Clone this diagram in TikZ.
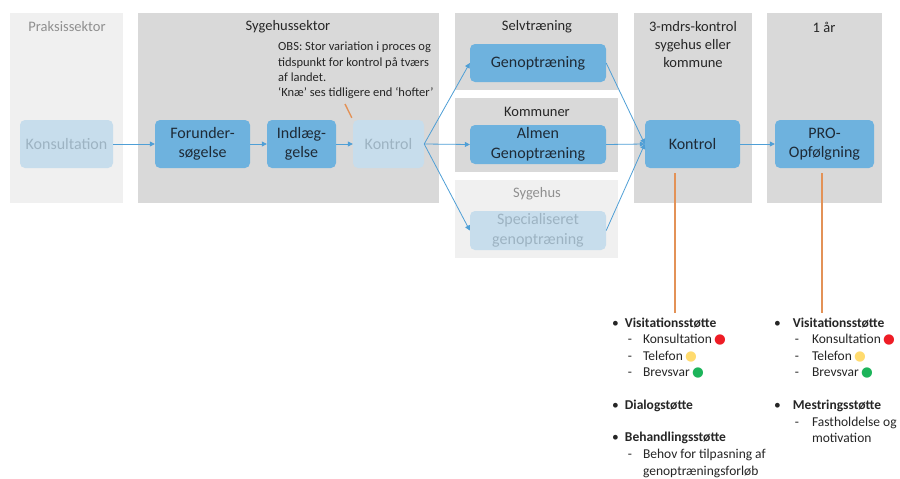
\documentclass[tikz,border=0pt]{standalone}
\usepackage{fontspec}
\setmainfont{Carlito}
\newfontfamily\dotfont{DejaVu Sans}
\usetikzlibrary{arrows.meta}
\definecolor{panelgray}{HTML}{D9D9D9}
\definecolor{panellight}{HTML}{F0F0F0}
\definecolor{boxblue}{HTML}{6EB2DE}
\definecolor{boxfade}{HTML}{C7DDEC}
\definecolor{fadetext}{HTML}{9DB3C2}
\definecolor{boxtext}{HTML}{1E2A36}
\definecolor{titlegray}{HTML}{8F8F8F}
\definecolor{linkblue}{HTML}{4F9FD6}
\definecolor{obsorange}{HTML}{E39257}
\definecolor{dotred}{HTML}{EE1C25}
\definecolor{dotyellow}{HTML}{FFDB6E}
\definecolor{dotgreen}{HTML}{1CB45A}
\tikzset{
  panel/.style={fill=panelgray, anchor=north west, inner sep=0pt},
  paneltitle/.style={font=\fontsize{14.5}{18}\selectfont, text=black!85, align=center},
  proc/.style={fill=boxblue, rounded corners=5pt, minimum height=48, align=center,
    text=boxtext, font=\fontsize{16}{19.5}\selectfont, inner sep=0pt},
  faded/.style={proc, fill=boxfade, text=fadetext},
  link/.style={draw=linkblue, line width=0.8pt, -{Triangle[length=5pt,width=5pt]}},
  obsline/.style={draw=obsorange, line width=1.4pt},
  bullets/.style={anchor=base west, inner sep=0pt, font=\fontsize{13.5}{16.3}\selectfont, text=black!85}
}
\newcommand{\tlight}[1]{\,{\dotfont\textcolor{#1}{●}}}

\begin{document}
\begin{tikzpicture}[x=1pt, y=-1pt]
  \path[use as bounding box, fill=white] (0,0) rectangle (900,479);
  % sector panels
  \node[panel, fill=panellight, minimum width=113, minimum height=190] (praks) at (10,13) {};
  \node[panel, minimum width=301, minimum height=190] (sygeh) at (138,13) {};
  \node[panel, minimum width=163, minimum height=77] (selv) at (455,13) {};
  \node[panel, minimum width=163, minimum height=74] (komm) at (455,98) {};
  \node[panel, fill=panellight, minimum width=163, minimum height=78] (sygh) at (455,180) {};
  \node[panel, minimum width=118, minimum height=190] (tremdr) at (634,13) {};
  \node[panel, minimum width=115, minimum height=190] (aar) at (767,13) {};
  \node[paneltitle, text=titlegray] (praksT) at (67,27) {Praksissektor};
  \node[paneltitle] (sygehT) at (288,27) {Sygehussektor};
  \node[paneltitle] (selvT) at (537,27) {Selvtræning};
  \node[paneltitle] (kommT) at (537,112) {Kommuner};
  \node[paneltitle, text=titlegray] (syghT) at (537,194) {Sygehus};
  \node[paneltitle] (tremdrT) at (693,45) {3-mdrs-kontrol\\sygehus eller\\kommune};
  \node[paneltitle] (aarT) at (824,27) {1 år};
  % process boxes
  \node[faded, minimum width=93] (konsult) at (66.5,144) {Konsultation};
  \node[proc, minimum width=95] (forund) at (202.5,144) {Forunder-\\søgelse};
  \node[proc, minimum width=69] (indlaeg) at (301.5,144) {Indlæg-\\gelse};
  \node[faded, minimum width=71] (kontrolA) at (388.5,144) {Kontrol};
  \node[proc, minimum width=136, minimum height=38] (genop) at (538,63) {Genoptræning};
  \node[proc, minimum width=136, minimum height=39] (almen) at (538,144.5) {Almen\\Genoptræning};
  \node[faded, minimum width=136, minimum height=39] (special) at (538,230.5) {Specialiseret\\genoptræning};
  \node[proc, minimum width=95] (kontrol) at (692.5,144) {Kontrol};
  \node[proc, minimum width=99] (pro) at (824.5,144) {PRO-\\Opfølgning};
  \node[anchor=north west, align=left, inner sep=0pt, text=black!85,
    font=\fontsize{12.5}{15.3}\selectfont] (obs) at (278,42)
    {OBS: Stor variation i proces og\\tidspunkt for kontrol på tværs\\af landet.\\‘Knæ’ ses tidligere end ‘hofter’};
  % flow
  \draw[link] (konsult) -- (forund);
  \draw[link] (forund) -- (indlaeg);
  \draw[link] (indlaeg) -- (kontrolA);
  \draw[link] (kontrolA.east) -- (genop.west);
  \draw[link] (kontrolA.east) -- (almen.west);
  \draw[link] (kontrolA.east) -- (special.west);
  \draw[link] (genop.east) -- (kontrol.west);
  \draw[link] (almen.east) -- (kontrol.west);
  \draw[link] (special.east) -- (kontrol.west);
  \draw[link] (kontrol) -- (pro);
  % orange pointers
  \coordinate (obstip) at (345,104);
  \coordinate (kontrolfoot) at (675,313);
  \coordinate (profoot) at (822,313);
  \draw[obsline] (obstip) -- ([shift={(-1,-2)}]kontrolA.north west);
  \draw[obsline] ([shift={(-17.5,5)}]kontrol.south) -- (kontrolfoot);
  \draw[obsline] ([shift={(-2.5,5)}]pro.south) -- (profoot);
  % support lists
  \node[bullets] (listA) at (612,327.5) {%
    \begin{tabular}[t]{@{}l@{\hspace{6pt}}l@{\hspace{11pt}}l@{}}
      \textbullet & \multicolumn{2}{@{}l@{}}{\textbf{Visitationsstøtte}}\\
       & \hspace{3pt}- & Konsultation\tlight{dotred}\\
       & \hspace{3pt}- & Telefon\tlight{dotyellow}\\
       & \hspace{3pt}- & Brevsvar\tlight{dotgreen}\\[16.7pt]
      \textbullet & \multicolumn{2}{@{}l@{}}{\textbf{Dialogstøtte}}\\[15.7pt]
      \textbullet & \multicolumn{2}{@{}l@{}}{\textbf{Behandlingsstøtte}}\\[1pt]
       & \hspace{3pt}- & Behov for tilpasning af\\
       & & genoptræningsforløb
    \end{tabular}};
  \node[bullets] (listB) at (774,327.5) {%
    \begin{tabular}[t]{@{}l@{\hspace{12pt}}l@{\hspace{13pt}}l@{}}
      \textbullet & \multicolumn{2}{@{}l@{}}{\textbf{Visitationsstøtte}}\\
       & \hspace{2pt}- & Konsultation\tlight{dotred}\\
       & \hspace{2pt}- & Telefon\tlight{dotyellow}\\
       & \hspace{2pt}- & Brevsvar\tlight{dotgreen}\\[16.7pt]
      \textbullet & \multicolumn{2}{@{}l@{}}{\textbf{Mestringsstøtte}}\\[0.7pt]
       & \hspace{2pt}- & Fastholdelse og\\
       & & motivation
    \end{tabular}};
\end{tikzpicture}
\end{document}
